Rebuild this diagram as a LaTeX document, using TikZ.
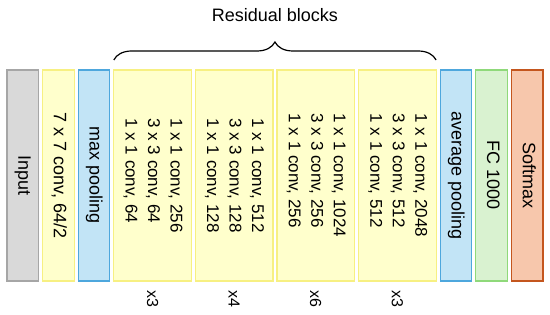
\documentclass[tikz,border=0pt]{standalone}
\usepackage{fontspec}
\setmainfont{Liberation Sans}
\usetikzlibrary{positioning,decorations.pathreplacing}

\definecolor{inFill}{HTML}{D9D9D9}
\definecolor{inLine}{HTML}{A6A6A6}
\definecolor{convFill}{HTML}{FFFFCC}
\definecolor{convLine}{HTML}{F7F082}
\definecolor{poolFill}{HTML}{C2E4F6}
\definecolor{poolLine}{HTML}{4EA7DD}
\definecolor{fcFill}{HTML}{D9F2D0}
\definecolor{fcLine}{HTML}{8FD97A}
\definecolor{smFill}{HTML}{F7C7AC}
\definecolor{smLine}{HTML}{C4561E}

\newcommand{\vtext}[1]{\rotatebox{-90}{\begin{tabular}{@{}l@{}}#1\end{tabular}}}

\begin{document}
\begin{tikzpicture}[x=1pt, y=1pt, node distance=4.1pt,
  layer/.style={draw, line width=1.2pt, outer sep=0pt, inner sep=0pt, minimum height=211pt,
    font=\fontsize{18}{22}\selectfont},
  thin/.style={layer, minimum width=31.5pt},
  wide/.style={layer, minimum width=77.5pt, font=\fontsize{17}{22.5}\selectfont},
  times/.style={font=\fontsize{16}{18}\selectfont, inner sep=0pt}]
  \useasboundingbox (0,0) rectangle (550,315);

  \node[thin, fill=inFill, draw=inLine, anchor=west] (inp) at (7,139.5) {\vtext{Input}};
  \node[thin, fill=convFill, draw=convLine, right=of inp] (conv1) {\vtext{7 x 7 conv, 64/2}};
  \node[thin, fill=poolFill, draw=poolLine, right=of conv1] (maxp) {\vtext{max pooling}};
  \node[wide, fill=convFill, draw=convLine, right=of maxp] (res1) {\vtext{1 x 1 conv, 256\\3 x 3 conv, 64\\1 x 1 conv, 64}};
  \node[wide, fill=convFill, draw=convLine, right=of res1] (res2) {\vtext{1 x 1 conv, 512\\3 x 3 conv, 128\\1 x 1 conv, 128}};
  \node[wide, fill=convFill, draw=convLine, right=of res2] (res3) {\vtext{1 x 1 conv, 1024\\3 x 3 conv, 256\\1 x 1 conv, 256}};
  \node[wide, fill=convFill, draw=convLine, right=of res3] (res4) {\vtext{1 x 1 conv, 2048\\3 x 3 conv, 512\\1 x 1 conv, 512}};
  \node[thin, fill=poolFill, draw=poolLine, right=of res4] (avgp) {\vtext{average pooling}};
  \node[thin, fill=fcFill, draw=fcLine, right=of avgp] (fc) {\vtext{FC 1000}};
  \node[thin, fill=smFill, draw=smLine, right=of fc] (soft) {\vtext{Softmax}};

  % repeat counts
  \node[times, below=9pt of res1] (n1) {\rotatebox{-90}{x3}};
  \node[times, below=9pt of res2] (n2) {\rotatebox{-90}{x4}};
  \node[times, below=9pt of res3] (n3) {\rotatebox{-90}{x6}};
  \node[times, below=9pt of res4] (n4) {\rotatebox{-90}{x3}};

  % brace over the residual blocks
  \draw[line width=1.2pt, decorate, decoration={brace, amplitude=18pt}]
    ([yshift=10pt]res1.north west) -- ([yshift=10pt]res4.north east);
  \node[font=\fontsize{18}{22}\selectfont] (title) at (275,300) {Residual blocks};
\end{tikzpicture}
\end{document}
